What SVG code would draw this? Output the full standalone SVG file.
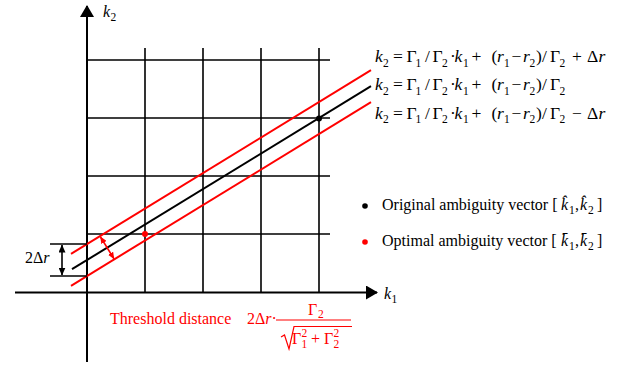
<svg xmlns="http://www.w3.org/2000/svg" width="633" height="369" viewBox="0 0 633 369">
<style>
text{font-family:"Liberation Serif","Times New Roman",serif;font-size:16px;fill:#000}
.eq text{font-size:17.5px}
.i{font-style:italic}
.s{font-size:11.5px}
.red text,.red tspan{fill:#ff0000}
.ax{stroke:#000;stroke-width:2;fill:none}
.gr{stroke:#000;stroke-width:1.6;fill:none}
.rl{stroke:#ff0000;stroke-width:2;fill:none}
.bl{stroke:#000;stroke-width:2;fill:none}
</style>
<defs>
<marker id="ah" viewBox="0 0 12 14" refX="11" refY="7" markerWidth="12" markerHeight="14" markerUnits="userSpaceOnUse" orient="auto"><path d="M0,0 L12,7 L0,14 Z" fill="#000"/></marker>
<marker id="sb" viewBox="0 0 8 7" refX="7.5" refY="3.5" markerWidth="8" markerHeight="7" markerUnits="userSpaceOnUse" orient="auto-start-reverse"><path d="M0,0 L8,3.5 L0,7 Z" fill="#000"/></marker>
<marker id="sr" viewBox="0 0 7 6" refX="6.5" refY="3" markerWidth="7" markerHeight="6" markerUnits="userSpaceOnUse" orient="auto-start-reverse"><path d="M0,0 L7,3 L0,6 Z" fill="#ff0000"/></marker>
</defs>

<g id="grid">
<path class="gr" d="M145,48V292 M203,48V292 M261,48V292 M319,48V292 M87,60H330 M87,118H330 M87,176H330 M87,234H330"/>
</g>

<g id="axes">
<line class="ax" x1="87" y1="362" x2="87" y2="6" marker-end="url(#ah)"/>
<line class="ax" x1="15" y1="292.5" x2="377" y2="292.5" marker-end="url(#ah)"/>
<text x="103" y="16.5" class="i">k<tspan class="s" font-style="normal" dx="0.5" dy="4">2</tspan></text>
<text x="384" y="299" class="i">k<tspan class="s" font-style="normal" dx="0.5" dy="4">1</tspan></text>
</g>

<g id="connectors">
<line class="rl" x1="71" y1="253.8" x2="371" y2="70.2"/>
<line class="bl" x1="72" y1="269.2" x2="371" y2="86.2"/>
<line class="rl" x1="71" y1="285.8" x2="371" y2="102.2"/>
<line class="gr" x1="50" y1="244" x2="87" y2="244"/>
<line class="gr" x1="50" y1="276" x2="87" y2="276"/>
<line stroke="#000" stroke-width="1.6" x1="62" y1="245" x2="62" y2="275" marker-start="url(#sb)" marker-end="url(#sb)"/>
<line stroke="#ff0000" stroke-width="1.6" x1="100.5" y1="237" x2="114" y2="258.8" marker-start="url(#sr)" marker-end="url(#sr)"/>
</g>

<g id="points">
<circle cx="319" cy="118.5" r="3" fill="#000"/>
<circle cx="145" cy="234" r="3" fill="#ff0000"/>
</g>

<g id="label-2dr">
<text x="25" y="263">2Δ<tspan class="i">r</tspan></text>
</g>

<g id="equations" class="eq">
<text y="62"><tspan x="375" class="i">k</tspan><tspan x="383" y="66.5" class="s">2</tspan><tspan x="393" y="62">=</tspan><tspan x="406.5">Γ</tspan><tspan x="415.5" y="66.5" class="s">1</tspan><tspan x="425" y="62">/</tspan><tspan x="432.5">Γ</tspan><tspan x="442" y="66.5" class="s">2</tspan><tspan x="450" y="62">·</tspan><tspan x="454.5" class="i">k</tspan><tspan x="463" y="66.5" class="s">1</tspan><tspan x="471.5" y="62">+</tspan><tspan x="491.5">(</tspan><tspan x="497" class="i">r</tspan><tspan x="504" y="66.5" class="s">1</tspan><tspan x="511.5" y="62">−</tspan><tspan x="523" class="i">r</tspan><tspan x="529.5" y="66.5" class="s">2</tspan><tspan x="536" y="62">)</tspan><tspan x="542">/</tspan><tspan x="550">Γ</tspan><tspan x="559.5" y="66.5" class="s">2</tspan><tspan x="572" y="62">+</tspan><tspan x="587">Δ</tspan><tspan x="598.5" class="i">r</tspan></text>
<text y="90"><tspan x="375" class="i">k</tspan><tspan x="383" y="94.5" class="s">2</tspan><tspan x="393" y="90">=</tspan><tspan x="406.5">Γ</tspan><tspan x="415.5" y="94.5" class="s">1</tspan><tspan x="425" y="90">/</tspan><tspan x="432.5">Γ</tspan><tspan x="442" y="94.5" class="s">2</tspan><tspan x="450" y="90">·</tspan><tspan x="454.5" class="i">k</tspan><tspan x="463" y="94.5" class="s">1</tspan><tspan x="471.5" y="90">+</tspan><tspan x="491.5">(</tspan><tspan x="497" class="i">r</tspan><tspan x="504" y="94.5" class="s">1</tspan><tspan x="511.5" y="90">−</tspan><tspan x="523" class="i">r</tspan><tspan x="529.5" y="94.5" class="s">2</tspan><tspan x="536" y="90">)</tspan><tspan x="542">/</tspan><tspan x="550">Γ</tspan><tspan x="559.5" y="94.5" class="s">2</tspan></text>
<text y="118.5"><tspan x="375" class="i">k</tspan><tspan x="383" y="123" class="s">2</tspan><tspan x="393" y="118.5">=</tspan><tspan x="406.5">Γ</tspan><tspan x="415.5" y="123" class="s">1</tspan><tspan x="425" y="118.5">/</tspan><tspan x="432.5">Γ</tspan><tspan x="442" y="123" class="s">2</tspan><tspan x="450" y="118.5">·</tspan><tspan x="454.5" class="i">k</tspan><tspan x="463" y="123" class="s">1</tspan><tspan x="471.5" y="118.5">+</tspan><tspan x="491.5">(</tspan><tspan x="497" class="i">r</tspan><tspan x="504" y="123" class="s">1</tspan><tspan x="511.5" y="118.5">−</tspan><tspan x="523" class="i">r</tspan><tspan x="529.5" y="123" class="s">2</tspan><tspan x="536" y="118.5">)</tspan><tspan x="542">/</tspan><tspan x="550">Γ</tspan><tspan x="559.5" y="123" class="s">2</tspan><tspan x="572" y="118.5">−</tspan><tspan x="587">Δ</tspan><tspan x="598.5" class="i">r</tspan></text>
</g>

<g id="legend">
<circle cx="365" cy="206" r="2.8" fill="#000"/>
<text y="210"><tspan x="382">Original ambiguity vector [</tspan><tspan x="561" class="i">k̂</tspan><tspan x="569" y="214" class="s">1</tspan><tspan x="575" y="210">,</tspan><tspan x="580" class="i">k̂</tspan><tspan x="588" y="214" class="s">2</tspan><tspan x="597" y="210">]</tspan></text>
<circle cx="365" cy="242" r="2.8" fill="#ff0000"/>
<text y="246"><tspan x="382">Optimal ambiguity vector [</tspan><tspan x="561" class="i">k̄</tspan><tspan x="569" y="250" class="s">1</tspan><tspan x="575" y="246">,</tspan><tspan x="580" class="i">k̄</tspan><tspan x="588" y="250" class="s">2</tspan><tspan x="597" y="246">]</tspan></text>
</g>

<g id="threshold" class="red">
<text x="110" y="324">Threshold distance</text>
<text y="324"><tspan x="247">2Δ</tspan><tspan class="i">r</tspan><tspan>·</tspan></text>
<line x1="276" y1="320" x2="351" y2="320" stroke="#ff0000" stroke-width="1.2"/>
<text y="315"><tspan x="308">Γ</tspan><tspan x="318" y="318" class="s">2</tspan></text>
<path d="M281,337 L284.5,335 L289,349 L294,326.5 L352,326.5" stroke="#ff0000" stroke-width="1.2" fill="none"/>
<text y="344"><tspan x="292">Γ</tspan><tspan x="301.5" y="337" class="s">2</tspan><tspan x="301.5" y="348" class="s">1</tspan><tspan x="311" y="344">+</tspan><tspan x="324">Γ</tspan><tspan x="333.5" y="337" class="s">2</tspan><tspan x="333.5" y="348" class="s">2</tspan></text>
</g>
</svg>
